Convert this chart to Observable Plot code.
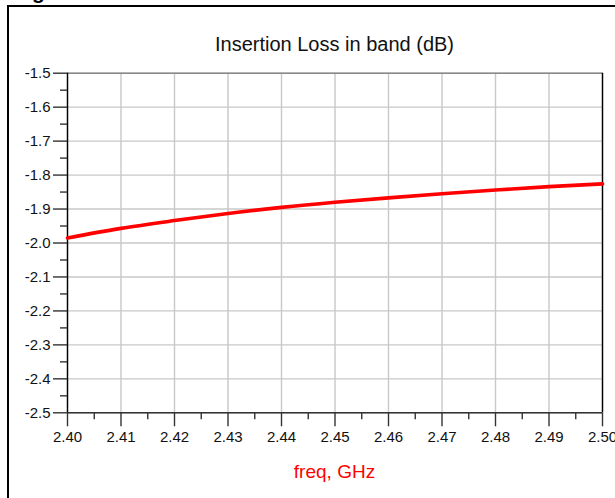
<!DOCTYPE html>
<html>
<head>
<meta charset="utf-8">
<script src="https://cdn.jsdelivr.net/npm/d3@7"></script>
<script src="https://cdn.jsdelivr.net/npm/@observablehq/plot@0.6"></script>
<style>
  html, body { margin: 0; padding: 0; background: #fff; }
  #wrap { position: relative; width: 615px; height: 498px; overflow: hidden; font-family: "Liberation Sans", Arial, sans-serif; }
  #frame { position: absolute; left: 7px; top: 5px; width: 800px; height: 700px; border: 2.5px solid #000; box-sizing: border-box; }
  #gchar { position: absolute; left: 32px; top: -19px; font: bold 21px "Liberation Sans", Arial, sans-serif; line-height: 21px; color: #000; }
  #title { position: absolute; left: 67px; width: 535px; top: 34px; text-align: center; font-size: 20px; line-height: 20px; color: #111; }
  #chart { position: absolute; left: 0; top: 60px; }
  #xlabel { position: absolute; left: 67px; width: 535px; top: 462px; text-align: center; font-size: 19px; line-height: 19px; color: #ff0000; }
</style>
</head>
<body>
<div id="wrap">
  <div id="frame"></div>
  <div id="gchar">g</div>
  <div id="title"></div>
  <div id="chart"></div>
  <div id="xlabel"></div>
</div>
<script>
// Data
const titleText = "Insertion Loss in band (dB)";
const xLabelText = "freq, GHz";
const freq = [2.40, 2.41, 2.42, 2.43, 2.44, 2.45, 2.46, 2.47, 2.48, 2.49, 2.50];
const loss = [-1.985, -1.957, -1.934, -1.913, -1.895, -1.880, -1.867, -1.855, -1.844, -1.834, -1.826];
const xTicks = [2.40, 2.41, 2.42, 2.43, 2.44, 2.45, 2.46, 2.47, 2.48, 2.49, 2.50];
const xMinorTicks = [2.405, 2.415, 2.425, 2.435, 2.445, 2.455, 2.465, 2.475, 2.485, 2.495];
const yTicks = [-1.5, -1.6, -1.7, -1.8, -1.9, -2.0, -2.1, -2.2, -2.3, -2.4, -2.5];
const yMinorTicks = [-1.55, -1.65, -1.75, -1.85, -1.95, -2.05, -2.15, -2.25, -2.35, -2.45];

document.getElementById("title").textContent = titleText;
document.getElementById("xlabel").textContent = xLabelText;

const data = freq.map((f, i) => ({ freq: f, loss: loss[i] }));

const chart = Plot.plot({
  width: 615,
  height: 438,
  marginLeft: 67,
  marginRight: 13,
  marginTop: 12.7,
  marginBottom: 85.7,
  style: { fontFamily: "'Liberation Sans', Arial, sans-serif", background: "transparent", overflow: "visible" },
  x: { domain: [2.40, 2.50] },
  y: { domain: [-2.5, -1.5] },
  marks: [
    Plot.gridX(xTicks, { stroke: "#c8c8c8", strokeOpacity: 1, strokeWidth: 1.4 }),
    Plot.gridY(yTicks, { stroke: "#c8c8c8", strokeOpacity: 1, strokeWidth: 1.4 }),
    Plot.ruleY([-1.5], { stroke: "#888", strokeWidth: 1.6 }),
    Plot.ruleY([-2.5], { stroke: "#333", strokeWidth: 1.4 }),
    Plot.ruleX([2.40], { stroke: "#000", strokeWidth: 1.4 }),
    Plot.ruleX([2.50], { stroke: "#000", strokeWidth: 1.4 }),
    Plot.axisY(yTicks, { tickSize: 14, tickPadding: 3, tickFormat: d => d.toFixed(1), fontSize: 15, fill: "#111", stroke: "#333", strokeWidth: 1.4, label: null }),
    Plot.axisY(yMinorTicks, { tickSize: 7, tickFormat: () => "", stroke: "#333", strokeWidth: 1.4, label: null }),
    Plot.axisX(xTicks, { tickSize: 14, tickPadding: 5, tickFormat: d => d.toFixed(2), fontSize: 15, fill: "#111", stroke: "#333", strokeWidth: 1.4, label: null }),
    Plot.axisX(xMinorTicks, { tickSize: 7, tickFormat: () => "", stroke: "#333", strokeWidth: 1.4, label: null }),
    Plot.line(data, { x: "freq", y: "loss", stroke: "#ff0000", strokeWidth: 3.6, curve: "monotone-x" })
  ]
});
document.getElementById("chart").appendChild(chart);
</script>
</body>
</html>
